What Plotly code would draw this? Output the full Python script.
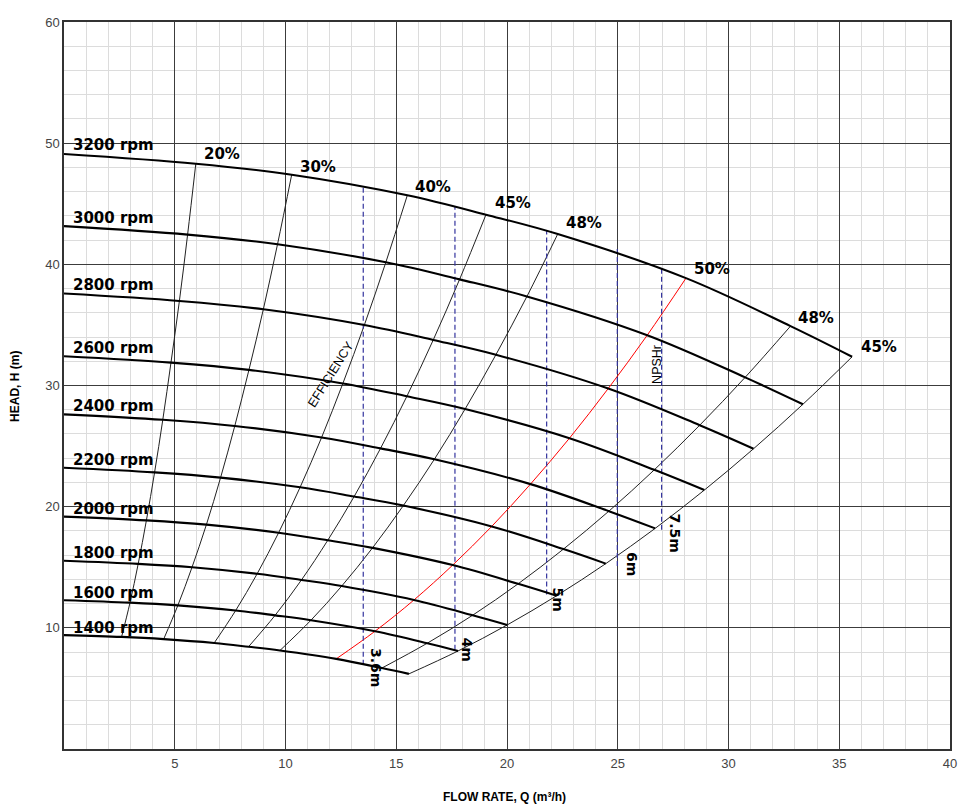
import plotly.graph_objects as go

# ---- data ----
speeds = [1400, 1600, 1800, 2000, 2200, 2400, 2600, 2800, 3000, 3200]

# points along each speed curve: shut-off, then crossings with the
# 20%, 30%, 40%, 45%, 48%, 50%, 48%, 45% efficiency lines
q_1400 = [0, 2.60, 4.50, 6.78, 8.33, 9.75, 12.29, 14.35, 15.57]
h_1400 = [9.40, 9.25, 9.07, 8.75, 8.44, 8.13, 7.44, 6.68, 6.20]
q_1600 = [0, 2.98, 5.14, 7.75, 9.53, 11.15, 14.04, 16.40, 17.79]
h_1600 = [12.28, 12.08, 11.85, 11.43, 11.03, 10.63, 9.72, 8.73, 8.09]
q_1800 = [0, 3.35, 5.78, 8.72, 10.72, 12.54, 15.80, 18.45, 20.01]
h_1800 = [15.54, 15.28, 15.00, 14.46, 13.95, 13.45, 12.30, 11.04, 10.24]
q_2000 = [0, 3.72, 6.43, 9.69, 11.91, 13.93, 17.55, 20.50, 22.24]
h_2000 = [19.18, 18.87, 18.52, 17.85, 17.23, 16.60, 15.18, 13.63, 12.65]
q_2200 = [0, 4.09, 7.07, 10.66, 13.10, 15.32, 19.31, 22.55, 24.46]
h_2200 = [23.21, 22.83, 22.40, 21.60, 20.84, 20.09, 18.37, 16.50, 15.30]
q_2400 = [0, 4.46, 7.71, 11.63, 14.29, 16.72, 21.06, 24.60, 26.69]
h_2400 = [27.62, 27.17, 26.66, 25.71, 24.81, 23.91, 21.86, 19.63, 18.21]
q_2600 = [0, 4.83, 8.35, 12.59, 15.48, 18.11, 22.82, 26.65, 28.91]
h_2600 = [32.41, 31.89, 31.29, 30.17, 29.11, 28.06, 25.65, 23.04, 21.37]
q_2800 = [0, 5.21, 9.00, 13.56, 16.67, 19.50, 24.57, 28.70, 31.13]
h_2800 = [37.59, 36.98, 36.29, 34.99, 33.76, 32.54, 29.75, 26.72, 24.78]
q_3000 = [0, 5.58, 9.64, 14.53, 17.86, 20.90, 26.33, 30.75, 33.36]
h_3000 = [43.15, 42.45, 41.66, 40.17, 38.76, 37.35, 34.15, 30.67, 28.45]
q_3200 = [0, 5.95, 10.28, 15.50, 19.05, 22.29, 28.08, 32.80, 35.58]
h_3200 = [49.10, 48.30, 47.40, 45.70, 44.10, 42.50, 38.86, 34.90, 32.37]

eff_labels = ['20%', '30%', '40%', '45%', '48%', '50%', '48%', '45%']

npsh_q = [13.51, 17.65, 21.79, 24.98, 26.98]
npsh_top = [46.4, 44.8, 42.8, 41.3, 39.7]
npsh_bottom = [6.96, 8.2, 12.75, 15.1, 18.1]
npsh_labels = ['3.6m', '4m', '5m', '6m', '7.5m']

x_ticks = [5, 10, 15, 20, 25, 30, 35, 40]
y_ticks = [10, 20, 30, 40, 50, 60]

curves_q = [q_1400, q_1600, q_1800, q_2000, q_2200, q_2400, q_2600, q_2800, q_3000, q_3200]
curves_h = [h_1400, h_1600, h_1800, h_2000, h_2200, h_2400, h_2600, h_2800, h_3000, h_3200]

fig = go.Figure()

# efficiency iso-lines
for i in range(1, 9):
    xs = [c[i] for c in curves_q]
    ys = [c[i] for c in curves_h]
    color = 'red' if i == 6 else '#222222'
    fig.add_trace(go.Scatter(x=xs, y=ys, mode='lines',
                             line=dict(color=color, width=1, shape='spline'),
                             hoverinfo='skip', showlegend=False))

# NPSH dashed lines
for q, b, t in zip(npsh_q, npsh_bottom, npsh_top):
    fig.add_trace(go.Scatter(x=[q, q], y=[b, t], mode='lines',
                             line=dict(color='#34349e', width=1.2, dash='5px,3px'),
                             hoverinfo='skip', showlegend=False))

# speed curves
for s, qs, hs in zip(speeds, curves_q, curves_h):
    fig.add_trace(go.Scatter(x=qs, y=hs, mode='lines', name=f'{s} rpm',
                             line=dict(color='black', width=2.1, shape='spline'),
                             showlegend=False))

ann = []

# rpm labels
rpm_label_y = [10.0, 12.89, 16.2, 19.83, 23.85, 28.31, 33.08, 38.29, 43.85, 49.86]
for s, yv in zip(speeds, rpm_label_y):
    ann.append(dict(x=0.3, y=yv, xref='x', yref='y', text=f'<b>{s} rpm</b>',
                    showarrow=False, xanchor='left', yanchor='middle',
                    font=dict(family='DejaVu Sans', size=15, color='black')))

# efficiency labels
eff_pos = [(7.13, 49.1), (11.47, 48.0), (16.67, 46.36), (20.29, 45.07),
           (23.48, 43.41), (29.27, 39.61), (33.93, 35.56), (36.79, 33.14)]
for lab, (xv, yv) in zip(eff_labels, eff_pos):
    ann.append(dict(x=xv, y=yv, xref='x', yref='y', text=f'<b>{lab}</b>',
                    showarrow=False, xanchor='center', yanchor='middle',
                    font=dict(family='DejaVu Sans', size=15, color='black')))

# NPSH labels
npsh_pos = [(14.09, 6.76), (18.18, 8.23), (22.30, 12.34), (25.64, 15.27), (27.58, 17.79)]
for lab, (xv, yv) in zip(npsh_labels, npsh_pos):
    ann.append(dict(x=xv, y=yv, xref='x', yref='y', text=f'<b>{lab}</b>',
                    showarrow=False, textangle=90, xanchor='center', yanchor='middle',
                    font=dict(family='DejaVu Sans', size=14, color='black')))

ann.append(dict(x=12.05, y=30.97, xref='x', yref='y', text='EFFICIENCY',
                showarrow=False, textangle=-58, xanchor='center', yanchor='middle',
                font=dict(family='Liberation Sans', size=12.5, color='black')))
ann.append(dict(x=26.77, y=31.78, xref='x', yref='y', text='NPSHr',
                showarrow=False, textangle=-90, xanchor='center', yanchor='middle',
                font=dict(family='Liberation Sans', size=12.5, color='black')))

ann.append(dict(x=-0.0553, y=0.498, xref='paper', yref='paper', text='<b>HEAD, H (m)</b>',
                showarrow=False, textangle=-90, xanchor='center', yanchor='middle',
                font=dict(family='Liberation Sans', size=12, color='black')))
ann.append(dict(x=0.4977, y=-0.0656, xref='paper', yref='paper',
                text='<b>FLOW RATE, Q (m³/h)</b>', showarrow=False,
                xanchor='center', yanchor='middle',
                font=dict(family='Liberation Sans', size=12, color='black')))

fig.update_layout(
    width=969, height=807,
    margin=dict(l=64, r=19, t=22, b=58),
    plot_bgcolor='white', paper_bgcolor='white',
    annotations=ann,
    showlegend=False,
)
fig.update_xaxes(range=[0, 40], tickmode='array', tickvals=x_ticks,
                 ticktext=[str(v) for v in x_ticks],
                 showgrid=True, gridcolor='#3c3c3c', gridwidth=1,
                 minor=dict(tick0=0, dtick=1, showgrid=True, gridcolor='#dcdcdc', gridwidth=1),
                 showline=True, linecolor='#333333', linewidth=1.5, mirror=True,
                 ticks='', ticklabelstandoff=2, zeroline=False,
                 tickfont=dict(family='Liberation Sans', size=13, color='#444444'))
fig.update_yaxes(range=[0, 60], tickmode='array', tickvals=y_ticks,
                 ticktext=[str(v) for v in y_ticks],
                 showgrid=True, gridcolor='#3c3c3c', gridwidth=1,
                 minor=dict(tick0=0, dtick=2, showgrid=True, gridcolor='#dcdcdc', gridwidth=1),
                 showline=True, linecolor='#333333', linewidth=1.5, mirror=True,
                 ticks='', ticklabelstandoff=0, zeroline=False,
                 tickfont=dict(family='Liberation Sans', size=13, color='#444444'))

fig.write_html('out.html', config={'displayModeBar': False},
               post_script="document.body.style.margin='0';document.body.style.padding='0';")
